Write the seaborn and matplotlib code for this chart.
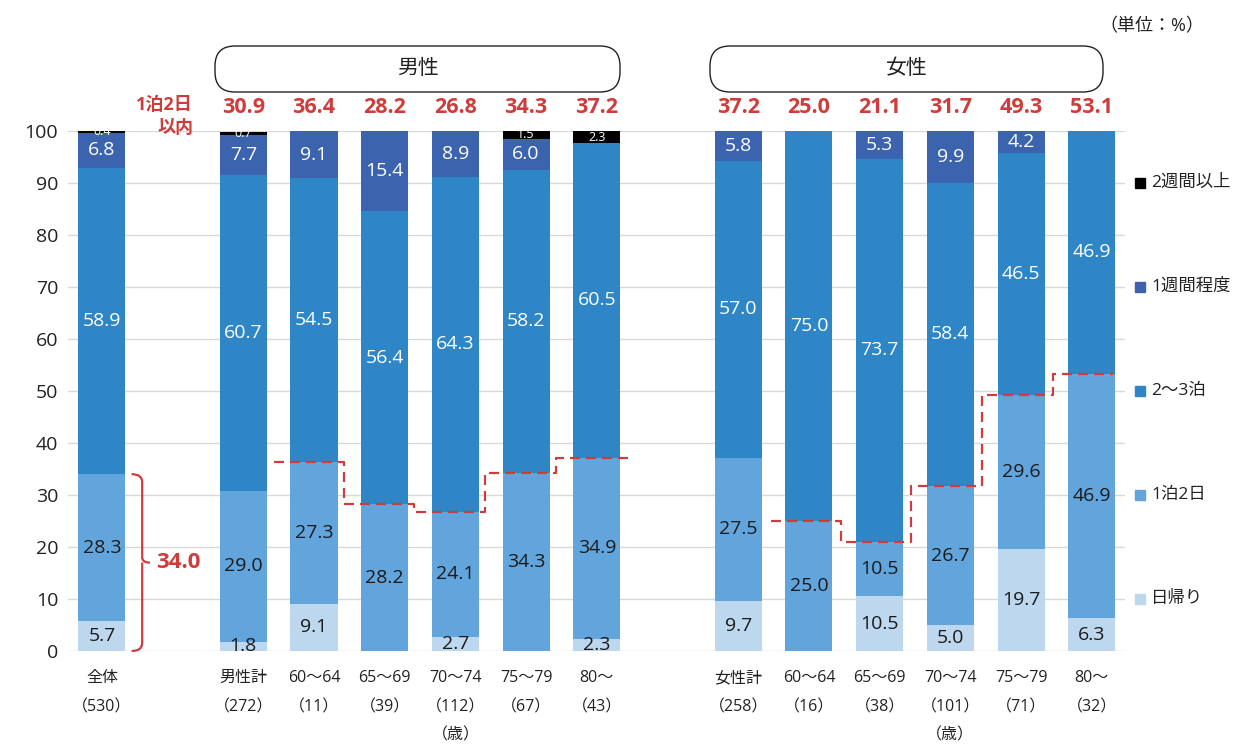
import matplotlib
matplotlib.use("Agg")
import matplotlib.pyplot as plt
from matplotlib.patches import FancyBboxPatch
from matplotlib.path import Path
from matplotlib.patches import PathPatch
from matplotlib.transforms import IdentityTransform, blended_transform_factory
import seaborn as sns
import numpy as np
import pandas as pd

# ---------------- data ----------------
categories = ["全体", "男性計", "60〜64", "65〜69", "70〜74", "75〜79", "80〜",
              "女性計", "60〜64", "65〜69", "70〜74", "75〜79", "80〜"]
counts = [530, 272, 11, 39, 112, 67, 43, 258, 16, 38, 101, 71, 32]
positions = [0, 2, 3, 4, 5, 6, 7, 9, 10, 11, 12, 13, 14]

series_names = ["日帰り", "1泊2日", "2〜3泊", "1週間程度", "2週間以上"]
higaeri = [5.7, 1.8, 9.1, 0, 2.7, 0, 2.3, 9.7, 0, 10.5, 5.0, 19.7, 6.3]
ippaku = [28.3, 29.0, 27.3, 28.2, 24.1, 34.3, 34.9, 27.5, 25.0, 10.5, 26.7, 29.6, 46.9]
nisanpaku = [58.9, 60.7, 54.5, 56.4, 64.3, 58.2, 60.5, 57.0, 75.0, 73.7, 58.4, 46.5, 46.9]
isshukan = [6.8, 7.7, 9.1, 15.4, 8.9, 6.0, 0, 5.8, 0, 5.3, 9.9, 4.2, 0]
nishukan = [0.4, 0.7, 0, 0, 0, 1.5, 2.3, 0, 0, 0, 0, 0, 0]
series_values = [higaeri, ippaku, nisanpaku, isshukan, nishukan]

within_labels = ["34.0", "30.9", "36.4", "28.2", "26.8", "34.3", "37.2",
                 "37.2", "25.0", "21.1", "31.7", "49.3", "53.1"]

colors = ["#BDD7EE", "#62A5DC", "#2E86C6", "#3C63AE", "#000000"]
label_colors = ["#1a1a1a", "#1a1a1a", "white", "white", "white"]
RED = "#D03C3C"

# ---------------- style ----------------
sns.set_theme(style="white")
plt.rcParams["font.family"] = ["Open Sans", "Noto Sans CJK JP", "DejaVu Sans"]

fig = plt.figure(figsize=(12.56, 7.5), dpi=100)
ax = fig.add_axes([0.0541, 0.132, 0.8416, 0.6933])

bottom = np.zeros(len(positions))
for name, vals, col in zip(series_names, series_values, colors):
    df = pd.DataFrame({"pos": positions, "val": vals})
    sns.barplot(data=df, x="pos", y="val", native_scale=True, width=0.665,
                bottom=bottom.copy(), color=col, saturation=1, linewidth=0,
                errorbar=None, ax=ax, zorder=2)
    bottom += np.array(vals)

# segment labels
bottom = np.zeros(len(positions))
for si, (vals, lc) in enumerate(zip(series_values, label_colors)):
    for p, v, b in zip(positions, vals, bottom):
        if v > 0:
            fs = 9 if si == 4 else 14
            ax.text(p, b + v / 2, f"{v:.1f}", ha="center", va="center",
                    color=lc, fontsize=fs, zorder=4)
    bottom += np.array(vals)

ax.set_xlim(-0.48, 14.47)
ax.set_ylim(0, 100)
ax.set_yticks(range(0, 101, 10))
ax.set_yticklabels([str(v) for v in range(0, 101, 10)], fontsize=14, color="#222222")
ax.yaxis.grid(True, color="#D9D9D9", lw=1)
ax.xaxis.grid(False)
ax.set_axisbelow(True)
for s in ax.spines.values():
    s.set_visible(False)
ax.tick_params(axis="both", length=0, pad=7)
ax.set_xticks([])
ax.set_xlabel("")
ax.set_ylabel("")

# x labels
tr = blended_transform_factory(ax.transData, ax.transAxes)
for p, c, n in zip(positions, categories, counts):
    ax.text(p, -0.052, c, transform=tr, ha="center", va="center", fontsize=11.5, color="#222222")
    ax.text(p, -0.108, f"（{n}）", transform=tr, ha="center", va="center", fontsize=11.5, color="#222222")
for p in [5, 12]:
    ax.text(p, -0.162, "（歳）", transform=tr, ha="center", va="center", fontsize=11.5, color="#222222")

# top red labels (1泊2日以内)
cum = [h + i for h, i in zip(higaeri, ippaku)]
for p, lab in zip(positions[1:], within_labels[1:]):
    ax.text(p, 104.5, lab, ha="center", va="center", color=RED, fontsize=15.5,
            fontweight="bold", clip_on=False)
ax.text(1.29, 102.8, "1泊2日\n以内", ha="right", va="center", color=RED, fontsize=13,
        fontweight="bold", linespacing=1.35, multialignment="right", clip_on=False)

# brace for 全体
x0, x1, x2 = 0.42, 0.57, 0.68
top, mid = cum[0], cum[0] / 2
verts = [(x0, top), (x1, top), (x1, top - 1.5), (x1, top - 1.5),
         (x1, mid + 1), (x1, mid), (x2, mid), (x1, mid), (x1, mid - 1),
         (x1, 1.5), (x1, 1.5), (x1, 0), (x0, 0)]
codes = [Path.MOVETO, Path.CURVE3, Path.CURVE3, Path.LINETO,
         Path.LINETO, Path.CURVE3, Path.CURVE3, Path.MOVETO, Path.CURVE3,
         Path.LINETO, Path.LINETO, Path.CURVE3, Path.CURVE3]
ax.add_patch(PathPatch(Path(verts, codes), fill=False, edgecolor=RED, lw=1.6, zorder=5,
                       clip_on=False))
ax.text(0.77, mid, within_labels[0], ha="left", va="center", color=RED, fontsize=16,
        fontweight="bold")

# dashed step lines
def step_line(idx, start=-0.57, trans=0.42, end=0.42):
    xs, ys = [], []
    ps = [positions[i] for i in idx]
    ls = [cum[i] for i in idx]
    xs.append(ps[0] + start); ys.append(ls[0])
    for k in range(len(ps) - 1):
        xs += [ps[k] + trans, ps[k] + trans]
        ys += [ls[k], ls[k + 1]]
    xs.append(ps[-1] + end); ys.append(ls[-1])
    ax.plot(xs, ys, color=RED, lw=1.6, dashes=(4.5, 2.7), zorder=5)

step_line([2, 3, 4, 5, 6], end=0.5)
step_line([8, 9, 10, 11, 12], start=-0.54, trans=0.45, end=0.3)

# group header boxes (pixel coords)
for (xl, xr, lab) in [(215, 620, "男性"), (710, 1103, "女性")]:
    box = FancyBboxPatch((xl + 20, 750 - 92 + 20), xr - xl - 40, 6,
                         boxstyle="round,pad=20,rounding_size=20",
                         transform=IdentityTransform(), facecolor="white",
                         edgecolor="#222222", lw=1.0)
    fig.patches.append(box)
    fig.text((xl + xr) / 2 / 1256, 1 - 69 / 750, lab, ha="center", va="center",
             fontsize=15, color="#222222")

fig.text(1152 / 1256, 1 - 26 / 750, "（単位：%）", ha="center", va="center",
         fontsize=13, color="#222222")

# legend
leg_y = [10, 30, 50, 70, 90]
for name, col, y in zip(series_names, colors, leg_y):
    ax.plot([14.68], [y], marker="s", markersize=7, color=col, clip_on=False, lw=0)
    ax.text(14.84, y, name, ha="left", va="center", fontsize=12.5, color="#222222",
            clip_on=False)

fig.savefig("out.png", dpi=100)
